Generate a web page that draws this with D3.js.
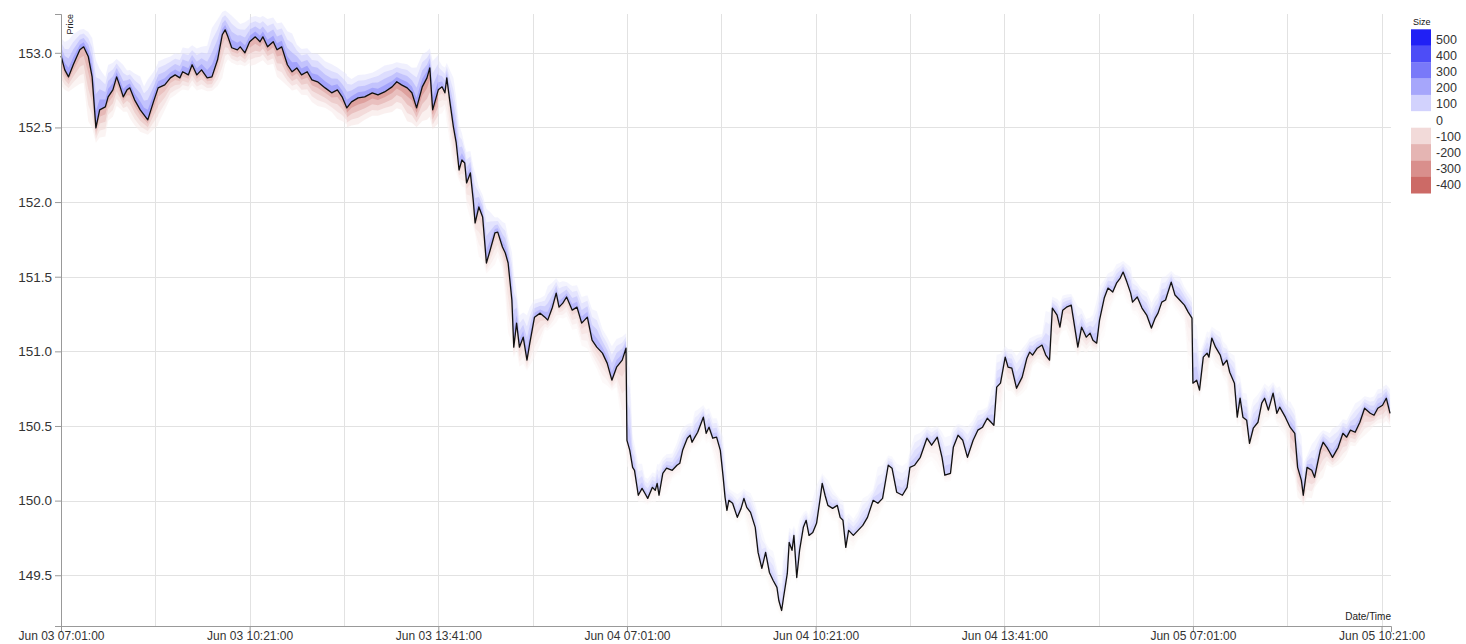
<!DOCTYPE html>
<html><head><meta charset="utf-8">
<script src="https://cdn.jsdelivr.net/npm/d3@7"></script>
<style>
body{margin:0;background:#fff;}
svg text{font-family:"Liberation Sans",Arial,sans-serif;}
</style>
</head><body>
<svg id="chart" width="1466" height="644"></svg>
<script>
// ---- data (trading-minute index since Jun 03 07:01, mid price) ----
const jun03Minutes = [0,4,8,13,20,24,29,33,37,41,47,50,55,59,63,66,70,73,78,84,88,92,98,103,110,116,121,126,129,135,139,144,149,155,160,166,171,174,177,181,187,190,195,200,206,211,214,219,225,229,234,240,245,250,255,261,266,272,280,287,293,298,303,308,315,322,330,336,343,351,356,361,367,372,377,383,388,391,394,400,404,407,409,412,416,419,422,425,428,430,434,437,439,443,447,451,455,460,463,468,471,474,478,480,483,486,490,494,497,502,508,513,516,521,525,528,532,536,542,547,552,558,563,568,574,579,584,589,595,599];
const jun03Prices = [152.98,152.886,152.839,152.92,153.02,153.04,152.973,152.839,152.497,152.618,152.638,152.705,152.752,152.839,152.765,152.705,152.752,152.765,152.685,152.618,152.584,152.551,152.671,152.765,152.785,152.832,152.852,152.832,152.873,152.852,152.92,152.852,152.886,152.832,152.839,152.953,153.121,153.154,153.107,153.034,153.02,153.04,153.0,153.074,153.107,153.074,153.107,153.04,153.074,153.02,153.04,152.92,152.873,152.899,152.852,152.873,152.819,152.806,152.765,152.732,152.752,152.705,152.631,152.671,152.698,152.705,152.732,152.718,152.738,152.772,152.806,152.785,152.765,152.732,152.631,152.772,152.832,152.899,152.618,152.752,152.772,152.732,152.832,152.685,152.504,152.396,152.215,152.282,152.262,152.128,152.195,152.014,151.86,151.967,151.9,151.592,151.679,151.793,151.799,151.699,151.659,151.592,151.344,151.028,151.189,151.028,151.095,150.941,151.055,151.229,151.256,151.229,151.209,151.296,151.39,151.296,151.323,151.364,151.276,151.296,151.189,151.229,151.075,151.028,150.988,150.921,150.807,150.894,150.941,151.021];
const jun04Minutes = [600,603,606,608,612,616,619,622,627,630,632,634,638,642,648,653,656,659,664,667,669,672,675,681,684,687,691,695,699,702,704,706,708,712,717,721,724,727,731,736,739,743,747,751,755,759,761,764,766,770,772,775,777,780,783,787,790,793,797,801,805,807,810,813,818,823,826,829,832,835,840,845,850,855,861,866,871,877,881,886,892,897,900,905,911,918,923,929,934,937,943,946,951,956,961,967,972,977,982,987,989,992,996,1001,1004,1008,1013,1019,1024,1027,1030,1035,1040,1044,1048,1051,1056,1059,1062,1066,1071,1073,1078,1082,1087,1091,1094,1098,1101,1106,1110,1115,1119,1123,1126,1130,1134,1136,1141,1146,1151,1156,1160,1163,1167,1171,1177,1181,1186,1191,1195,1199];
const jun04Prices = [150.404,150.337,150.223,150.203,150.036,150.082,150.049,150.015,150.089,150.069,150.116,150.036,150.183,150.217,150.203,150.237,150.25,150.337,150.418,150.438,150.391,150.425,150.458,150.559,150.451,150.492,150.418,150.425,150.337,150.156,150.022,149.935,150.002,149.982,149.888,149.948,150.015,149.955,149.921,149.821,149.653,149.546,149.653,149.519,149.465,149.419,149.331,149.264,149.351,149.512,149.72,149.667,149.767,149.485,149.667,149.821,149.868,149.767,149.787,149.848,150.022,150.116,150.036,149.968,149.948,149.968,149.888,149.868,149.687,149.801,149.767,149.801,149.834,149.888,150.002,149.982,150.015,150.237,150.217,150.056,150.036,150.089,150.223,150.237,150.29,150.418,150.371,150.425,150.29,150.17,150.183,150.357,150.438,150.404,150.29,150.404,150.472,150.492,150.552,150.518,150.505,150.76,150.787,150.961,150.894,150.887,150.753,150.827,150.954,150.995,150.975,151.021,151.042,150.975,150.941,151.29,151.243,151.162,151.276,151.296,151.31,151.229,151.028,151.162,151.095,151.122,151.075,151.055,151.209,151.357,151.424,151.397,151.457,151.491,151.531,151.464,151.39,151.33,151.364,151.29,151.243,151.156,151.223,151.256,151.33,151.344,151.464,151.377,151.344,151.31,151.263,151.223];
const jun05Minutes = [1200,1204,1207,1211,1215,1217,1220,1224,1229,1232,1236,1239,1244,1247,1250,1253,1257,1260,1264,1269,1273,1276,1280,1285,1289,1292,1298,1303,1308,1311,1315,1317,1321,1326,1329,1335,1338,1342,1345,1348,1354,1359,1363,1367,1372,1377,1382,1388,1392,1396,1401,1405,1409];
const jun05Prices = [150.787,150.807,150.74,150.961,150.988,150.961,151.089,151.028,150.975,150.907,150.941,150.86,150.787,150.559,150.686,150.559,150.538,150.384,150.485,150.525,150.653,150.686,150.606,150.72,150.585,150.626,150.559,150.492,150.451,150.223,150.136,150.036,150.223,150.203,150.156,150.337,150.391,150.357,150.324,150.29,150.357,150.451,150.425,150.472,150.458,150.525,150.619,150.585,150.572,150.619,150.639,150.686,150.585];

// order-book depth per 100-minute block: price reach of the book and its peak size
const askReach = [0.12,0.13,0.14,0.13,0.10,0.10,0.08,0.065,0.065,0.075,0.075,0.075,0.075,0.08,0.09];
const askSize  = [320,300,320,320,260,250,190,150,150,170,190,190,180,210,230];
const bidReach = [0.10,0.09,0.11,0.13,0.07,0.07,0.045,0.04,0.04,0.045,0.06,0.045,0.05,0.07,0.08];
const bidSize  = [-300,-260,-320,-400,-170,-160,-80,-60,-60,-80,-140,-80,-100,-220,-260];

const tickMinutes = [0,200,400,600,800,1000,1200,1400];
const tickLabels = ["Jun 03 07:01:00","Jun 03 10:21:00","Jun 03 13:41:00","Jun 04 07:01:00","Jun 04 10:21:00","Jun 04 13:41:00","Jun 05 07:01:00","Jun 05 10:21:00"];
const gridMinutes = [0,100,200,300,400,500,600,700,800,900,1000,1100,1200,1300,1400];
const priceTicks = [149.5,150.0,150.5,151.0,151.5,152.0,152.5,153.0];
const priceDomain = [149.16,153.26];
const minuteDomain = [0,1410];
const legendSizes = [500,400,300,200,100,0,-100,-200,-300,-400];

// ---- chart ----
const svg = d3.select("#chart");
const margin = {left:61, top:14, right:75, bottom:18};
const W = 1466 - margin.left - margin.right;
const H = 644 - margin.top - margin.bottom;
const g = svg.append("g").attr("transform", `translate(${margin.left},${margin.top})`);

const x = d3.scaleLinear().domain(minuteDomain).range([0, W]);
const y = d3.scaleLinear().domain(priceDomain).range([H, 0]);
const color = d3.scaleLinear().domain([-500,0,500]).range(["#bf4540","#ffffff","#2020f5"]);

// grid
g.append("g").selectAll("line").data(priceTicks).join("line")
  .attr("x1",0).attr("x2",W).attr("y1",d=>Math.round(y(d))+0.5).attr("y2",d=>Math.round(y(d))+0.5)
  .attr("stroke","#e2e2e2");
g.append("g").selectAll("line").data(gridMinutes).join("line")
  .attr("y1",0).attr("y2",H).attr("x1",d=>Math.round(x(d))+0.5).attr("x2",d=>Math.round(x(d))+0.5)
  .attr("stroke","#e2e2e2");

const minutes = jun03Minutes.concat(jun04Minutes, jun05Minutes);
const prices = jun03Prices.concat(jun04Prices, jun05Prices);
const pts = minutes.map((m,i)=>{
  const nb = prices.slice(Math.max(0,i-2), i+3);
  return {m, p:prices[i], hi:d3.max(nb), lo:d3.min(nb), b:Math.min(askReach.length-1, Math.floor(m/100))};
});

// depth bands, drawn per 100-minute block
const layers = [{f:1,s:0.2},{f:0.75,s:0.38},{f:0.5,s:0.6},{f:0.25,s:0.85}];
const bands = g.append("g");
for (let b = 0; b < askReach.length; b++) {
  const seg = pts.filter((d,i)=> d.b===b || (i>0 && pts[i-1].b===b && d.b===b+1));
  if (seg.length < 2) continue;
  layers.forEach(L=>{
    bands.append("path")
      .attr("fill", color(askSize[b]*L.s)).attr("fill-opacity",0.5)
      .attr("d", d3.area().x(d=>x(d.m)).y0(d=>y(d.p)).y1(d=>y(d.p+(d.hi-d.p)*L.f*0.7+askReach[b]*L.f))(seg));
    bands.append("path")
      .attr("fill", color(bidSize[b]*L.s)).attr("fill-opacity",0.5)
      .attr("d", d3.area().x(d=>x(d.m)).y0(d=>y(d.p)).y1(d=>y(d.p-(d.p-d.lo)*L.f*0.7-bidReach[b]*L.f))(seg));
  });
}

// price line
g.append("path").datum(pts)
  .attr("fill","none").attr("stroke","#111").attr("stroke-width",1.3).attr("stroke-linejoin","round")
  .attr("d", d3.line().x(d=>x(d.m)).y(d=>y(d.p)));

// axes
const xAxis = g.append("g").attr("transform",`translate(0,${H})`)
  .call(d3.axisBottom(x).tickValues(tickMinutes).tickFormat((d,i)=>tickLabels[i]).tickSizeOuter(6));
xAxis.selectAll(".tick text").attr("font-size",12).attr("fill","#333").attr("y",5);
xAxis.append("text").attr("x",W).attr("y",-6).attr("text-anchor","end")
  .attr("fill","#222").attr("font-size",10).text("Date/Time");

const yAxis = g.append("g")
  .call(d3.axisLeft(y).tickValues(priceTicks).tickFormat(d3.format(".1f")));
yAxis.selectAll(".tick text").attr("font-size",13.5).attr("fill","#333");
yAxis.append("text").attr("transform","rotate(-90)").attr("y",6).attr("dy",".71em")
  .attr("text-anchor","end").attr("fill","#222").attr("font-size",9).text("Price");

[xAxis,yAxis].forEach(a=>{
  a.attr("font-family",null);
  a.select(".domain").attr("stroke","#999");
  a.selectAll(".tick line").attr("stroke","#999");
});

// legend
const leg = svg.append("g").attr("transform","translate(1411,29.3)");
leg.append("text").attr("x",2).attr("y",-4).attr("font-size",9).attr("fill","#111").text("Size");
leg.selectAll("rect").data(legendSizes).join("rect")
  .attr("x",0).attr("y",(d,i)=>i*16.4).attr("width",20).attr("height",16.6)
  .attr("fill",d=>color(d));
leg.selectAll("text.lab").data(legendSizes).join("text").attr("class","lab")
  .attr("x",25).attr("y",(d,i)=>i*16.2+10).attr("dy","0.35em")
  .attr("font-size",12.5).attr("fill","#333").text(d=>d);
</script>
</body></html>
